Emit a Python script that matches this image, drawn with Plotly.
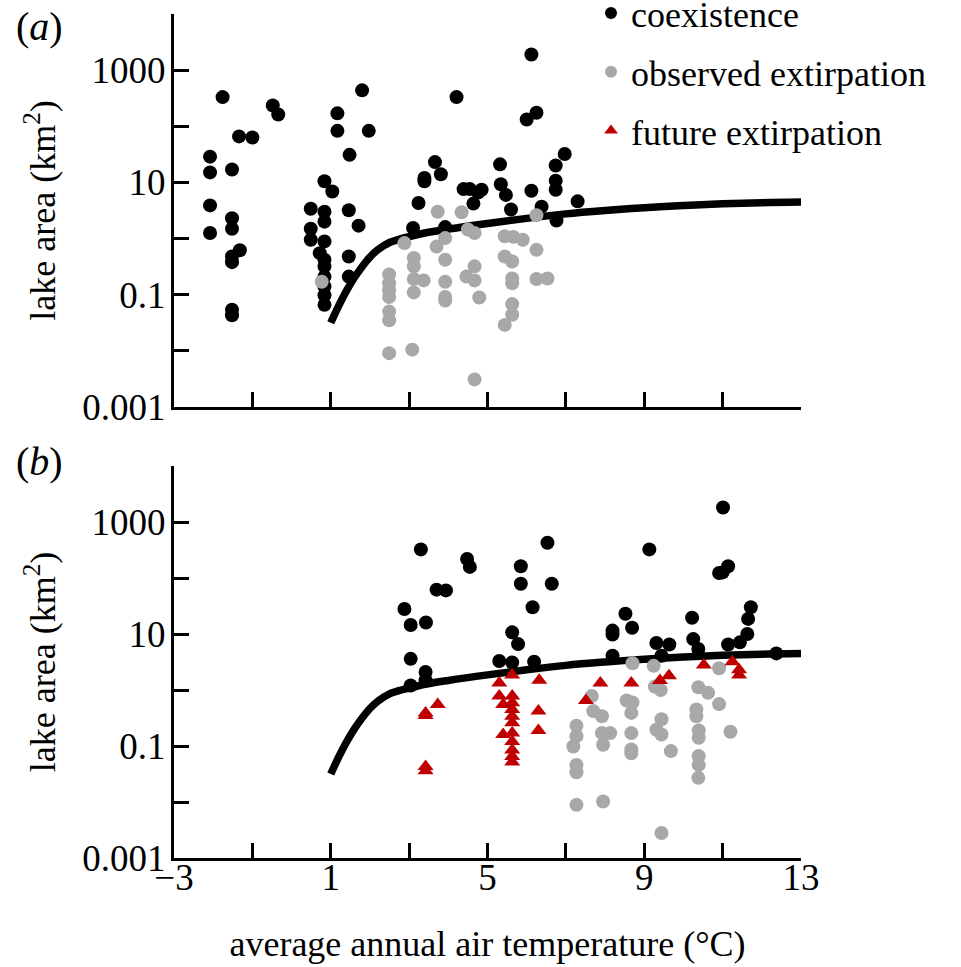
import plotly.graph_objects as go

# ---------------- data ----------------
# panel (a): present climate
a_coex_x = [-1.76, -2.08, -2.08, -2.08, -2.08, -1.34, -1.00, -1.52, -1.52, -1.52, -1.32, -1.52, -1.52, -1.52, -1.52,
            -0.48, -0.34, 1.17, 1.17, 1.80, 1.97, 1.48, 0.84, 1.04, 0.49, 0.84, 0.84, 1.46, 1.71, 0.49, 0.49, 0.84,
            0.72, 0.84, 0.84, 0.84, 0.84, 0.84, 0.84, 1.46, 1.46, 4.21, 3.66, 3.81, 3.39, 3.39, 3.24, 3.10, 4.39,
            4.55, 4.76, 4.64, 3.92, 6.12, 6.00, 6.25, 6.97, 6.74, 6.74, 6.74, 5.32, 5.34, 5.47, 5.60, 6.12, 6.38,
            6.76, 7.30, 4.85]
a_coex_y = [331, 28.8, 15.1, 3.9, 1.26, 66, 63, 17, 2.3, 1.5, 0.62, 0.48, 0.38, 0.054, 0.043,
            234, 162, 170, 83, 437, 83, 31, 10.5, 6.9, 3.4, 3.0, 2.0, 3.2, 1.7, 1.5, 0.95, 0.89,
            0.55, 0.42, 0.32, 0.21, 0.14, 0.098, 0.066, 0.48, 0.21, 331, 23, 14, 12, 10.5, 4.3, 1.55, 7.6,
            7.6, 6.6, 4.2, 1.6, 1905, 132, 174, 32, 20, 10.7, 7.4, 21, 9.3, 6.0, 3.3, 7.1, 3.7,
            2.1, 4.6, 7.4]
a_obs_x = [0.77, 3.73, 4.34, 2.88, 3.92, 3.70, 4.50, 4.67, 3.12, 3.12, 3.92, 2.49, 2.49, 2.49, 2.49, 2.49,
           2.49, 2.49, 3.12, 3.37, 3.12, 3.92, 3.92, 3.92, 4.46, 4.67, 4.67, 4.79, 3.08, 4.67, 6.25, 5.44,
           5.66, 5.90, 6.25, 5.44, 5.63, 5.63, 5.63, 6.25, 6.53, 5.63, 5.63, 5.44]
a_obs_y = [0.17, 3.0, 2.95, 0.83, 1.02, 0.72, 1.45, 1.26, 0.45, 0.32, 0.42, 0.23, 0.16, 0.12, 0.091, 0.05,
           0.035, 0.0091, 0.19, 0.18, 0.11, 0.17, 0.091, 0.079, 0.21, 0.32, 0.18, 0.089, 0.0105, 0.0031, 2.6, 1.1,
           1.07, 0.95, 0.63, 0.48, 0.39, 0.195, 0.16, 0.19, 0.195, 0.068, 0.044, 0.029]

# panel (b): future climate
b_coex_x = [3.30, 2.88, 3.04, 3.43, 3.04, 3.42, 3.42, 3.04, 3.70, 3.94, 4.48, 4.55, 11.01, 6.53, 5.85, 5.85,
            6.64, 6.15, 9.13, 10.91, 11.14, 11.00, 11.72, 11.65, 11.63, 11.44, 11.14, 12.37, 10.22, 10.25,
            10.38, 8.52, 8.69, 8.19, 8.19, 8.19, 9.31, 9.64, 9.44, 5.63, 5.78, 5.30, 5.63, 6.19]
b_coex_y = [324, 28, 14.5, 16, 3.6, 2.1, 1.5, 1.2, 62, 60, 219, 158, 1820, 427, 162, 79,
            79, 30, 324, 123, 162, 126, 30, 18.6, 10, 7.1, 6.5, 4.5, 19.5, 8.1,
            5.4, 23, 12.9, 11.5, 9.8, 4.1, 6.9, 6.5, 4.1, 10.7, 6.6, 3.3, 3.1, 3.2]
b_obs_x = [8.70, 9.24, 10.91, 9.27, 9.42, 10.38, 10.63, 7.66, 8.55, 8.70, 7.70, 7.92, 8.67, 10.33, 10.33,
           10.91, 9.44, 9.31, 9.44, 11.20, 7.27, 7.27, 7.19, 7.27, 7.27, 7.92, 8.13, 7.95, 8.67, 8.67, 8.67,
           9.68, 10.39, 10.39, 10.39, 10.39, 10.38, 7.27, 7.95, 9.44]
b_obs_y = [3.0, 2.7, 2.45, 1.15, 1.0, 1.12, 0.89, 0.78, 0.65, 0.6, 0.42, 0.34, 0.39, 0.45, 0.34,
           0.56, 0.3, 0.195, 0.16, 0.18, 0.23, 0.15, 0.098, 0.046, 0.034, 0.17, 0.17, 0.105, 0.17, 0.087, 0.074,
           0.081, 0.19, 0.14, 0.066, 0.046, 0.027, 0.0089, 0.0102, 0.0028]
b_fut_x = [3.42, 3.42, 3.73, 3.42, 3.42, 5.30, 5.30, 5.40, 5.63, 5.63, 5.63, 5.63, 5.63, 5.63, 5.63, 5.40,
           5.63, 5.63, 5.63, 5.63, 6.32, 6.30, 6.30, 7.88, 7.51, 8.67, 9.40, 9.63, 10.52, 11.25, 11.42, 11.42]
b_fut_y = [0.39, 0.35, 0.55, 0.043, 0.036, 1.33, 0.78, 0.55, 1.86, 0.78, 0.59, 0.45, 0.34, 0.26, 0.17, 0.16,
           0.12, 0.085, 0.065, 0.052, 1.5, 0.42, 0.19, 1.33, 0.65, 1.33, 1.48, 1.8, 2.8, 3.2, 2.3, 1.86]

# threshold curve (same in both panels)
curve_x = [1.0, 1.2, 1.4, 1.6, 1.8, 2.0, 2.2, 2.5, 2.8, 3.1, 3.4, 4.0, 5.0, 6.0, 7.0, 8.0, 9.0, 10.0, 11.0, 12.0, 13.0]
curve_y = [0.0316, 0.063, 0.117, 0.2, 0.316, 0.468, 0.631, 0.851, 1.0, 1.122, 1.259, 1.479, 1.862, 2.291, 2.754,
           3.162, 3.548, 3.89, 4.169, 4.365, 4.467]

x_tickvals = [-3, 1, 5, 9, 13]
x_ticktext = ["\u22123", "1", "5", "9", "13"]
x_minorvals = [-1, 3, 7, 11]
y_tickvals = [0.001, 0.1, 10, 1000]
y_ticktext = ["0.001", "0.1", "10", "1000"]
y_minorvals = [0.01, 1, 100, 10000]

# ---------------- style ----------------
FONT = "Liberation Serif, Times New Roman, serif"
BLACK = "#000000"
GREY = "#a8a8a8"
RED = "#c00000"
MS = 14
FS = 36

fig = go.Figure()

def add_panel(xa, ya, coex_x, coex_y, obs_x, obs_y, fut_x=None, fut_y=None, legend=False):
    fig.add_trace(go.Scatter(x=curve_x, y=curve_y, mode="lines", line=dict(color=BLACK, width=7.5, shape="spline"),
                             xaxis=xa, yaxis=ya, showlegend=False, hoverinfo="skip"))
    fig.add_trace(go.Scatter(x=coex_x, y=coex_y, mode="markers", name="coexistence",
                             marker=dict(color=BLACK, size=MS, symbol="circle"),
                             xaxis=xa, yaxis=ya, showlegend=legend, legendgroup="g1", legendrank=1))
    fig.add_trace(go.Scatter(x=obs_x, y=obs_y, mode="markers", name="observed extirpation",
                             marker=dict(color=GREY, size=MS, symbol="circle"),
                             xaxis=xa, yaxis=ya, showlegend=legend, legendgroup="g2", legendrank=2))
    if fut_x is not None:
        fig.add_trace(go.Scatter(x=fut_x, y=fut_y, mode="markers", name="future extirpation",
                                 marker=dict(color=RED, size=MS, symbol="triangle-up"),
                                 xaxis=xa, yaxis=ya, showlegend=True, legendgroup="g3", legendrank=3))

add_panel("x", "y", a_coex_x, a_coex_y, a_obs_x, a_obs_y, legend=True)
add_panel("x2", "y2", b_coex_x, b_coex_y, b_obs_x, b_obs_y, b_fut_x, b_fut_y, legend=False)

W, H = 961, 967
PL, PR, PT, PB = 174, 801, 14, 858        # plot region in pixels
L, T, R, B = PL, PT, W - PR, H - PB
pw = PR - PL
ph = PB - PT

def py2paper(py):
    return (PB - py) / ph

def px2paper(px):
    return (px - PL) / pw

tfont = dict(family=FONT, size=FS, color=BLACK)
tickfont = dict(family=FONT, size=37, color=BLACK)
minor_common = dict(ticks="inside", ticklen=15, tickwidth=3, tickcolor=BLACK, showgrid=False)
axis_common = dict(showline=True, linewidth=3, linecolor=BLACK, ticks="inside", ticklen=15, tickwidth=3,
                   tickcolor=BLACK, showgrid=False, zeroline=False, tickfont=tickfont)

xa = dict(axis_common, range=[-3, 13], tickmode="array", tickvals=x_tickvals, ticktext=x_ticktext,
          minor=dict(minor_common, tickmode="array", tickvals=x_minorvals))
ya = dict(axis_common, type="log", range=[-3, 4], tickmode="array", tickvals=y_tickvals, ticktext=y_ticktext,
          ticklabelstandoff=-2,
          minor=dict(minor_common, tickmode="array", tickvals=y_minorvals),
          title=dict(text="lake area (km<sup>2</sup>)", font=tfont, standoff=16))

fig.update_layout(
    width=W, height=H,
    margin=dict(l=L, r=R, t=T, b=B, autoexpand=False),
    paper_bgcolor="white", plot_bgcolor="white",
    font=tfont,
    xaxis=dict(xa, anchor="y", showticklabels=False, domain=[0, 1]),
    yaxis=dict(ya, anchor="x", domain=[py2paper(407), py2paper(14)]),
    xaxis2=dict(xa, anchor="y2", ticklabelstandoff=-15,
                title=dict(text="average annual air temperature (\u00b0C)", font=tfont, standoff=34)),
    yaxis2=dict(ya, anchor="x2", domain=[py2paper(858), py2paper(466)]),
    legend=dict(x=px2paper(591), y=py2paper(-17), xanchor="left", yanchor="top",
                bgcolor="rgba(0,0,0,0)", font=tfont,
                tracegroupgap=9, traceorder="grouped", itemsizing="constant"),
    annotations=[
        dict(text="(<i>a</i>)", x=px2paper(39), y=py2paper(26), xref="paper", yref="paper",
             showarrow=False, xanchor="center", yanchor="middle", font=dict(family=FONT, size=40, color=BLACK)),
        dict(text="(<i>b</i>)", x=px2paper(39), y=py2paper(462), xref="paper", yref="paper",
             showarrow=False, xanchor="center", yanchor="middle", font=dict(family=FONT, size=40, color=BLACK)),
    ],
)

# remove the default 8 px page margin so the figure fills the window exactly
fig.write_html("out.html", config={"displayModeBar": False},
               post_script="document.body.style.margin='0px';")
